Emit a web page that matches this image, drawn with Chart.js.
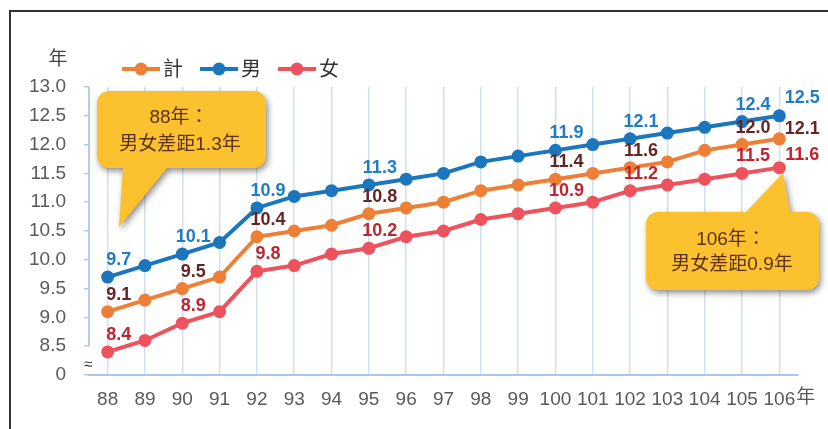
<!DOCTYPE html>
<html>
<head>
<meta charset="utf-8">
<script src="https://cdn.jsdelivr.net/npm/chart.js@4.4.1/dist/chart.umd.min.js"></script>
<style>
  html, body { margin: 0; padding: 0; background: #fff; }
  #wrap { width: 828px; height: 429px; }
</style>
</head>
<body>
<div id="wrap"><canvas id="chart" width="828" height="429"></canvas></div>
<script>
// data
const years = ["88", "89", "90", "91", "92", "93", "94", "95", "96", "97", "98", "99", "100", "101", "102", "103", "104", "105", "106"];
const seriesNames = ["計", "男", "女"];
const total = [9.1, 9.3, 9.5, 9.7, 10.4, 10.5, 10.6, 10.8, 10.9, 11.0, 11.2, 11.3, 11.4, 11.5, 11.6, 11.7, 11.9, 12.0, 12.1];
const male = [9.7, 9.9, 10.1, 10.3, 10.9, 11.1, 11.2, 11.3, 11.4, 11.5, 11.7, 11.8, 11.9, 12.0, 12.1, 12.2, 12.3, 12.4, 12.5];
const female = [8.4, 8.6, 8.9, 9.1, 9.8, 9.9, 10.1, 10.2, 10.4, 10.5, 10.7, 10.8, 10.9, 11.0, 11.2, 11.3, 11.4, 11.5, 11.6];
const labelYears = ["88", "90", "92", "95", "100", "102", "105", "106"]; // points that carry a value label
const yTicks = [8.0, 8.5, 9.0, 9.5, 10.0, 10.5, 11.0, 11.5, 12.0, 12.5, 13.0];
const notes = [["88年：", "男女差距1.3年"], ["106年：", "男女差距0.9年"]];

const lineColors = ["#ef7f36", "#1b76bd", "#ee525d"];
const labelColors = ["#662525", "#1f7dc4", "#c0252f"];
const CJK = "'Liberation Sans', 'Noto Sans CJK TC', sans-serif";
Chart.defaults.font.family = CJK;

function callout(ctx, x, y, w, h, r, ptr) {
    // rounded box with a pointer, ptr = {side, a, b, tx, ty}
    ctx.beginPath();
    ctx.moveTo(x + r, y);
    if (ptr.side === "top") {
        ctx.lineTo(ptr.a, y);
        ctx.lineTo(ptr.tx, ptr.ty);
        ctx.lineTo(ptr.b, y);
    }
    ctx.lineTo(x + w - r, y);
    ctx.arcTo(x + w, y, x + w, y + r, r);
    ctx.lineTo(x + w, y + h - r);
    ctx.arcTo(x + w, y + h, x + w - r, y + h, r);
    if (ptr.side === "bottom") {
        ctx.lineTo(ptr.b, y + h);
        ctx.lineTo(ptr.tx, ptr.ty);
        ctx.lineTo(ptr.a, y + h);
    }
    ctx.lineTo(x + r, y + h);
    ctx.arcTo(x, y + h, x, y + h - r, r);
    ctx.lineTo(x, y + r);
    ctx.arcTo(x, y, x + r, y, r);
    ctx.closePath();
}

const deco = {
    id: "deco",
    beforeDraw(chart) {
        const ctx = chart.ctx;
        ctx.save();
        ctx.fillStyle = "#fff";
        ctx.fillRect(0, 0, chart.width, chart.height);
        // frame
        ctx.strokeStyle = "#333";
        ctx.lineWidth = 2;
        ctx.beginPath();
        ctx.moveTo(10, chart.height);
        ctx.lineTo(10, 11);
        ctx.lineTo(chart.width, 11);
        ctx.stroke();
        ctx.restore();
    },
    afterDatasetsDraw(chart) {
        const ctx = chart.ctx;
        const area = chart.chartArea;
        const y = chart.scales.y;
        ctx.save();

        // broken y axis line
        ctx.strokeStyle = "#b3cce8";
        ctx.lineWidth = 2;
        ctx.beginPath();
        ctx.moveTo(area.left, area.top);
        ctx.lineTo(area.left, y.getPixelForValue(8.5));
        ctx.stroke();
        ctx.fillStyle = "#333";
        ctx.font = "15px " + CJK;
        ctx.textAlign = "center";
        ctx.textBaseline = "middle";
        ctx.fillText("≈", area.left - 1, y.getPixelForValue(8.17));

        // axis titles
        ctx.fillStyle = "#444";
        ctx.font = "19px " + CJK;
        ctx.fillText("年", 58, 60);
        const xs = chart.scales.x;
        ctx.textAlign = "left";
        ctx.fillStyle = "#595959";
        ctx.fillText("年", xs.getPixelForValue(years.length - 1) + 17, 398);

        // legend
        ctx.textAlign = "left";
        chart.data.datasets.forEach((ds, i) => {
            const x0 = 122 + i * 78;
            ctx.strokeStyle = ds.borderColor;
            ctx.lineWidth = 4;
            ctx.beginPath();
            ctx.moveTo(x0, 69);
            ctx.lineTo(x0 + 38, 69);
            ctx.stroke();
            ctx.fillStyle = ds.borderColor;
            ctx.beginPath();
            ctx.arc(x0 + 19, 69, 6.5, 0, Math.PI * 2);
            ctx.fill();
            ctx.fillStyle = "#333";
            ctx.font = "20px " + CJK;
            ctx.fillText(ds.label, x0 + 41, 70);
        });

        // callouts
        ctx.fillStyle = "#fcc12f";
        ctx.shadowColor = "rgba(0,0,0,0.45)";
        ctx.shadowBlur = 6;
        ctx.shadowOffsetX = 2;
        ctx.shadowOffsetY = 3;
        callout(ctx, 97, 91, 169, 77, 12, { side: "bottom", a: 123, b: 167, tx: 119, ty: 227 });
        ctx.fill();
        callout(ctx, 646, 212, 173, 78, 12, { side: "top", a: 746, b: 790, tx: 783, ty: 173 });
        ctx.fill();
        ctx.shadowColor = "transparent";
        ctx.fillStyle = "#5a3118";
        ctx.font = "19px " + CJK;
        ctx.textAlign = "center";
        ctx.fillText(notes[0][0], 179, 118);
        ctx.fillText(notes[0][1], 180, 145);
        ctx.fillText(notes[1][0], 731, 240);
        ctx.fillText(notes[1][1], 732, 265);

        // value labels
        ctx.font = "bold 18px " + CJK;
        const last = years.length - 1;
        const lastDy = [-10, -18, -13];
        chart.data.datasets.forEach((ds, i) => {
            const meta = chart.getDatasetMeta(i);
            ctx.fillStyle = labelColors[i];
            meta.data.forEach((pt, j) => {
                if (!labelYears.includes(years[j])) return;
                const dx = j === last ? 23 : 11;
                const dy = j === last ? lastDy[i] : -17;
                ctx.fillText(ds.data[j].toFixed(1), pt.x + dx, pt.y + dy);
            });
        });
        ctx.restore();
    }
};

const datasets = [total, male, female].map((vals, i) => ({
    label: seriesNames[i],
    data: vals,
    borderColor: lineColors[i],
    backgroundColor: lineColors[i],
    borderWidth: 4,
    pointRadius: 6.5,
    pointHoverRadius: 6.5,
    pointBorderWidth: 0,
    tension: 0,
}));

const ctx = document.getElementById("chart").getContext("2d");
const chart = new Chart(ctx, {
    type: "line",
    data: { labels: years, datasets: datasets },
    options: {
        responsive: false,
        animation: false,
        events: [],
        layout: { padding: { top: 87, right: 30, left: 0, bottom: 0 } },
        plugins: { legend: { display: false }, tooltip: { enabled: false } },
        scales: {
            x: {
                offset: true,
                afterFit: (s) => { s.height = 54; },
                grid: { color: "#cfe0f2", lineWidth: 1.5, drawTicks: false },
                border: { color: "#a9c7e7", width: 2 },
                ticks: { color: "#595959", font: { size: 19 }, padding: 13, maxRotation: 0, autoSkip: false },
            },
            y: {
                min: 8,
                max: 13,
                afterFit: (s) => { s.width = 89; },
                afterBuildTicks: (s) => { s.ticks = yTicks.map((v) => ({ value: v })); },
                grid: { drawOnChartArea: false, color: "#b3cce8", lineWidth: 1.5, tickLength: 5 },
                border: { display: false },
                ticks: {
                    color: "#595959",
                    font: { size: 19 },
                    padding: 18,
                    callback: (v) => (v === 8 ? "0" : v.toFixed(1)),
                },
            },
        },
    },
    plugins: [deco],
});
</script>
</body>
</html>
